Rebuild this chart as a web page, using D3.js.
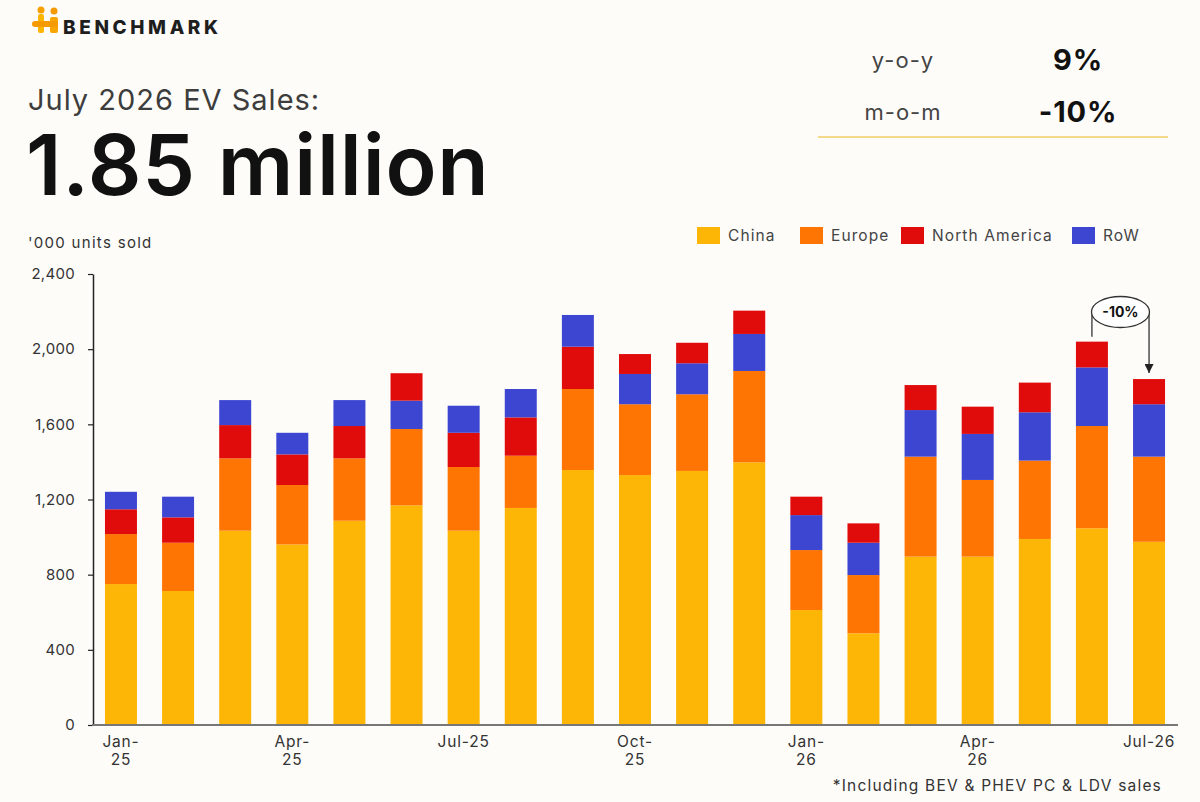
<!DOCTYPE html>
<html>
<head>
<meta charset="utf-8">
<script src="https://cdn.jsdelivr.net/npm/d3@7"></script>
<style>
  body { margin: 0; background: #fdfcf9; }
  svg { display: block; font-family: Inter, "Noto Sans", sans-serif; }
</style>
</head>
<body>
<div id="chart"></div>
<script>
// monthly EV sales, '000 units
var months = ["Jan-25","Feb-25","Mar-25","Apr-25","May-25","Jun-25","Jul-25","Aug-25","Sep-25","Oct-25","Nov-25","Dec-25",
              "Jan-26","Feb-26","Mar-26","Apr-26","May-26","Jun-26","Jul-26"];
var china        = [750, 713, 1034, 961, 1087, 1169, 1034, 1155, 1357, 1330, 1352, 1398, 612, 488, 896, 896, 990, 1047, 975];
var europe       = [266, 257, 385, 316, 332, 406, 339, 278, 431, 377, 408, 486, 319, 310, 532, 408, 417, 544, 453];
var northAmerica = [132, 135, 177, 163, 172, 146, 182, 204, 225, 106, 109, 124, 98, 103, 133, 145, 158, 137, 134];
var rowSales     = [93, 110, 133, 115, 138, 151, 144, 151, 169, 161, 165, 197, 186, 172, 248, 245, 257, 312, 279];
// months where RoW sits below North America in the stack
var rowBelowNA   = [false,false,false,false,false,true,false,false,false,true,true,true,true,true,true,true,true,true,true];

var seriesNames = ["China", "Europe", "North America", "RoW"];
var seriesColors = ["#fdb605", "#ff7503", "#e00c0c", "#3d46d1"];

var yTicks = [0, 400, 800, 1200, 1600, 2000, 2400];
var xTickMonths = ["Jan-25","Apr-25","Jul-25","Oct-25","Jan-26","Apr-26","Jul-26"];
var xTickLines = [["Jan-","25"],["Apr-","25"],["Jul-25"],["Oct-","25"],["Jan-","26"],["Apr-","26"],["Jul-26"]];

var W = 1200, H = 802;
var svg = d3.select("#chart").append("svg")
  .attr("width", W).attr("height", H);

svg.append("rect").attr("width", W).attr("height", H).attr("fill", "#fdfcf9");

// ---- logo
var logo = svg.append("g");
logo.append("rect").attr("x", 38).attr("y", 14).attr("width", 6).attr("height", 19).attr("rx", 2).attr("fill", "#fdb605");
logo.append("rect").attr("x", 50).attr("y", 17).attr("width", 8).attr("height", 16).attr("rx", 2).attr("fill", "#f9a602");
logo.append("rect").attr("x", 32).attr("y", 21).attr("width", 26).attr("height", 6).attr("rx", 3).attr("fill", "#f59a00");
logo.append("circle").attr("cx", 41).attr("cy", 10).attr("r", 3.5).attr("fill", "#f7a000");
logo.append("circle").attr("cx", 54).attr("cy", 11).attr("r", 3.5).attr("fill", "#f59a00");
logo.append("text").attr("x", 63).attr("y", 34)
  .attr("font-size", 19).attr("font-weight", 800).attr("fill", "#1e1e1e")
  .attr("letter-spacing", 3.6)
  .text("BENCHMARK");

// ---- headline
svg.append("text").attr("x", 28).attr("y", 110)
  .attr("font-size", 29).attr("fill", "#3d3d3d")
  .attr("letter-spacing", 1)
  .text("July 2026 EV Sales:");
svg.append("text").attr("x", 26).attr("y", 195)
  .attr("font-size", 84).attr("font-weight", 600).attr("fill", "#111")
  .attr("letter-spacing", 0.8)
  .text("1.85 million");

// ---- y-o-y / m-o-m panel
var stats = [["y-o-y", "9%", 68], ["m-o-m", "-10%", 120]];
stats.forEach(function(s) {
  svg.append("text").attr("x", 903).attr("y", s[2]).attr("text-anchor", "middle")
    .attr("font-size", 22).attr("fill", "#444").attr("letter-spacing", 1).text(s[0]);
  svg.append("text").attr("x", 1078).attr("y", s[2] + 2).attr("text-anchor", "middle")
    .attr("font-size", 29).attr("font-weight", 700).attr("fill", "#111").attr("letter-spacing", 0.8).text(s[1]);
});
svg.append("line").attr("x1", 818).attr("x2", 1168).attr("y1", 137).attr("y2", 137)
  .attr("stroke", "#f4d98a").attr("stroke-width", 2);

// ---- units label
svg.append("text").attr("x", 28).attr("y", 248)
  .attr("font-size", 15).attr("fill", "#333").attr("letter-spacing", 1.3).text("'000 units sold");

// ---- legend
var legendX = [697, 800, 901, 1072];
var legend = svg.append("g").selectAll("g").data(seriesNames).join("g")
  .attr("transform", (d, i) => "translate(" + legendX[i] + ",227)");
legend.append("rect").attr("width", 23).attr("height", 17).attr("fill", (d, i) => seriesColors[i]);
legend.append("text").attr("x", 31).attr("y", 14)
  .attr("font-size", 15.5).attr("fill", "#444").attr("letter-spacing", 1.1).text(d => d);

// ---- scales
var x = d3.scaleBand().domain(months).range([92.4, 1177.6])
  .paddingInner(0.44).paddingOuter(0.22);
var y = d3.scaleLinear().domain([0, 2400]).range([725, 274]);

// build stacks per month (order of RoW/NA varies)
var segments = [];
months.forEach(function(m, i) {
  var vals = [china[i], europe[i], northAmerica[i], rowSales[i]];
  var order = rowBelowNA[i] ? [0, 1, 3, 2] : [0, 1, 2, 3];
  var base = 0;
  order.forEach(function(k) {
    segments.push({ month: m, k: k, y0: base, y1: base + vals[k] });
    base += vals[k];
  });
});

svg.append("g").selectAll("rect").data(segments).join("rect")
  .attr("x", d => x(d.month))
  .attr("width", x.bandwidth())
  .attr("y", d => y(d.y1))
  .attr("height", d => y(d.y0) - y(d.y1))
  .attr("fill", d => seriesColors[d.k]);

// ---- axes
var yAxis = svg.append("g").attr("transform", "translate(93,0)")
  .call(d3.axisLeft(y).tickValues(yTicks).tickFormat(d3.format(",")).tickSize(5).tickSizeOuter(0).tickPadding(13));
yAxis.select(".domain").attr("stroke", "#222").attr("stroke-width", 1.5);
yAxis.selectAll(".tick line").attr("stroke", "#222").attr("stroke-width", 1.2);
yAxis.selectAll(".tick text").attr("font-size", 15).attr("fill", "#333")
  .attr("font-family", "Inter, 'Noto Sans', sans-serif").attr("letter-spacing", 0.3);

var xAxis = svg.append("g").attr("transform", "translate(0,725)")
  .call(d3.axisBottom(x).tickValues(xTickMonths).tickSize(0).tickSizeOuter(0).tickFormat(""));
xAxis.select(".domain").attr("stroke", "#777").attr("stroke-width", 2.2)
  .attr("d", "M92,0H1178");
xAxis.selectAll(".tick text").remove();
xAxis.selectAll(".tick").each(function(d) {
  var lines = xTickLines[xTickMonths.indexOf(d)];
  var t = d3.select(this).append("text")
    .attr("text-anchor", "middle").attr("font-size", 15.5).attr("fill", "#333")
    .attr("font-family", "Inter, 'Noto Sans', sans-serif").attr("letter-spacing", 0.8)
    .attr("y", 22);
  lines.forEach(function(l, j) {
    t.append("tspan").attr("x", 0).attr("dy", j === 0 ? 0 : 18).text(l);
  });
});

// ---- footnote
svg.append("text").attr("x", 1162).attr("y", 791).attr("text-anchor", "end")
  .attr("font-size", 15.5).attr("fill", "#333").attr("letter-spacing", 1.2)
  .text("*Including BEV & PHEV PC & LDV sales");

// ---- m-o-m annotation between the last two bars
var totals = months.map((m, i) => china[i] + europe[i] + northAmerica[i] + rowSales[i]);
var n = months.length;
var xa = x(months[n - 2]) + x.bandwidth() / 2;
var xb = x(months[n - 1]) + x.bandwidth() / 2;
var ey = 312;
svg.append("defs").append("marker").attr("id", "arr")
  .attr("viewBox", "0 0 10 10").attr("refX", 10).attr("refY", 5)
  .attr("markerWidth", 9).attr("markerHeight", 9).attr("markerUnits", "userSpaceOnUse")
  .attr("orient", "auto")
  .append("path").attr("d", "M0,0L10,5L0,10Z").attr("fill", "#222");
svg.append("line").attr("x1", xa).attr("x2", xa).attr("y1", ey).attr("y2", y(totals[n - 2]) - 5)
  .attr("stroke", "#333").attr("stroke-width", 1.3);
svg.append("line").attr("x1", xb).attr("x2", xb).attr("y1", ey).attr("y2", y(totals[n - 1]) - 6)
  .attr("stroke", "#333").attr("stroke-width", 1.3).attr("marker-end", "url(#arr)");
svg.append("ellipse").attr("cx", (xa + xb) / 2).attr("cy", ey).attr("rx", 29).attr("ry", 15.5)
  .attr("fill", "#fff").attr("stroke", "#333").attr("stroke-width", 1.3);
svg.append("text").attr("x", (xa + xb) / 2).attr("y", ey + 5).attr("text-anchor", "middle")
  .attr("font-size", 14).attr("font-weight", 700).attr("fill", "#111")
  .text("-10%");
</script>
</body>
</html>
